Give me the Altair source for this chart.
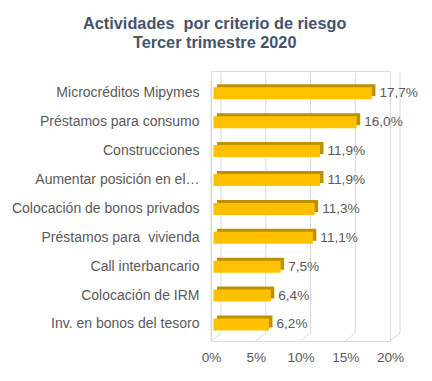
import altair as alt
import pandas as pd

categories = ["Microcréditos Mipymes", "Préstamos para consumo\u00a0", "Construcciones",
              "Aumentar posición en el…", "Colocación de bonos privados",
              "Préstamos para\u00a0 vivienda", "Call interbancario", "Colocación de IRM",
              "Inv. en bonos del tesoro"]
values = [17.7, 16.0, 11.9, 11.9, 11.3, 11.1, 7.5, 6.4, 6.2]
ticks = [0, 5, 10, 15, 20]
title_lines = ["Actividades\u00a0 por criterio de riesgo", "Tercer trimestre 2020"]

FONT = "Liberation Sans, Arial, sans-serif"
GRID = "#D9D9D9"
TXT = "#595959"

df = pd.DataFrame({"cat": categories, "v": values})
tk = pd.DataFrame({"t": ticks})

xscale = alt.Scale(domain=[0, 20], nice=False, zero=True)
yscale = alt.Scale(domain=categories, paddingInner=0.585, paddingOuter=0.464, align=0.608)
xaxis = alt.Axis(values=ticks, labelExpr="datum.value + '%'", grid=False, domain=False,
                 ticks=False, labelPadding=9, labelFontSize=13.6, labelColor=TXT,
                 labelFont=FONT, title=None, labelFlush=False, labelOverlap=False)

x_enc = alt.X("v:Q", scale=xscale, axis=xaxis)
y_enc = alt.Y("cat:N", scale=yscale, sort=categories,
              axis=alt.Axis(grid=False, domain=False, ticks=False, labelPadding=12,
                            labelFontSize=14, labelColor=TXT, labelFont=FONT, title=None,
                            labelLimit=300))

grid_v = alt.Chart(tk).mark_rule(color=GRID, strokeWidth=1, xOffset=10, x2Offset=10).encode(
    x=alt.X("t:Q", scale=xscale, axis=xaxis), y=alt.value(2), y2=alt.value(262))
grid_d = alt.Chart(tk).mark_rule(color=GRID, strokeWidth=1, xOffset=10, x2Offset=0).encode(
    x=alt.X("t:Q", scale=xscale, axis=xaxis), x2="t:Q", y=alt.value(262), y2=alt.value(270))
wall = alt.Chart(tk).transform_filter("datum.t == 0").mark_rule(color=GRID, strokeWidth=1).encode(
    x=alt.X("t:Q", scale=xscale, axis=xaxis), y=alt.value(10), y2=alt.value(270))

base = alt.Chart(df)
dark = base.mark_bar(color="#BF9000", xOffset=6, x2Offset=6, yOffset=-3).encode(
    x=x_enc, y=y_enc)
front = base.mark_bar(color="#FFC000", xOffset=2.5, x2Offset=2.5).encode(x=x_enc, y=y_enc)
labels = base.transform_calculate(
    lab="replace(format(datum.v, '.1f'), '.', ',') + '%'"
).mark_text(align="left", baseline="middle", dx=10, fontSize=13.6, color=TXT, font=FONT).encode(
    x=x_enc, y=y_enc, text="lab:N")

chart = alt.layer(grid_v, grid_d, wall, dark, front, labels).properties(
    width=179, height=270,
    title=alt.TitleParams(text=title_lines, font=FONT, fontSize=16.3, fontWeight="bold",
                          color="#44546A", lineHeight=18.5, anchor="middle", frame="bounds",
                          offset=20),
    autosize=alt.AutoSizeParams(type="none"),
    padding={"left": 203, "top": 63, "right": 34, "bottom": 32},
).configure_view(stroke=None).configure(background="white")

chart.save("out.html", embed_options={"renderer": "svg", "actions": False})
